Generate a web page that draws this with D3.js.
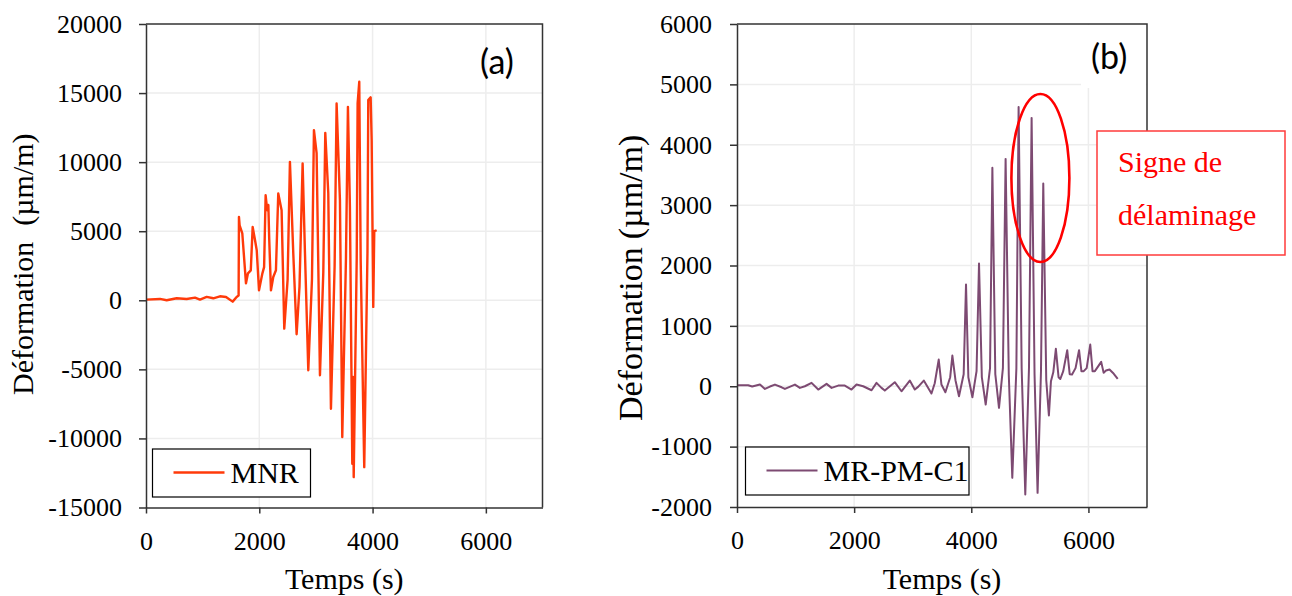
<!DOCTYPE html>
<html><head><meta charset="utf-8">
<script src="https://cdn.jsdelivr.net/npm/d3@7"></script>
<style>
body{margin:0;background:#fff}
svg{display:block}
text{font-family:"Liberation Serif","Times New Roman",serif;fill:#000}
</style>
</head><body>
<svg id="chart" width="1292" height="596"></svg>
<script>
// ---------- data ----------
const timeTicks = [0, 2000, 4000, 6000];
const strainTicksA = [-15000, -10000, -5000, 0, 5000, 10000, 15000, 20000];
const strainTicksB = [-2000, -1000, 0, 1000, 2000, 3000, 4000, 5000, 6000];
const seriesNames = ["MNR", "MR-PM-C1"];
const panelLabels = ["(a)", "(b)"];
const xTitle = "Temps (s)";
const yTitleWord = "Déformation";
const yTitleUnit = "(µm/m)";
const noteLines = ["Signe de", "délaminage"];

// MNR (panel a): time (s) and strain (µm/m)
const mnrTime = [0, 247, 365, 541, 718, 865, 953, 1071, 1188, 1306, 1412, 1530, 1600, 1635,
  1641, 1653, 1700, 1765, 1800, 1850, 1883, 1925, 1955, 1995, 2055, 2085,
  2112, 2140, 2160, 2175, 2206, 2247, 2294, 2335, 2394, 2441, 2500, 2541, 2600, 2659,
  2710, 2765, 2806, 2865, 2930, 2965, 3012, 3071, 3130, 3165, 3218, 3265, 3330, 3365,
  3424, 3465, 3530, 3565, 3600, 3642, 3655, 3667, 3720, 3736, 3765, 3790, 3853,
  3910, 3924, 3966, 3984, 4012, 4030, 4072];
const mnrStrain = [48, 97, 0, 145, 97, 193, 48, 242, 145, 290, 242, -97, 242, 338,
  6036, 5430, 4850, 1230, 1950, 2170, 5300, 4350, 3620, 720, 1950, 2400,
  7600, 6520, 6900, 4490, 720, 1690, 2170, 7730, 6520, -2050, 1500, 10020, 3400, -2460,
  1000, 9900, 3500, -5070, 1500, 12320, 10650, -5430, 2000, 12120, 7750, -7850, 2500, 14250,
  7250, -9900, 3000, 14000, 6760, -11830, -5550, -12800, 3000, 14250, 15820, 2900, -12080,
  3500, 14490, 14690, 11590, -480, 5000, 5070];

// MR-PM-C1 (panel b): time (s) and strain (µm/m)
const mrTime = [0, 190, 260, 392, 477, 563, 648, 762, 818, 989, 1074, 1159, 1273, 1387,
  1529, 1615, 1728, 1841, 1955, 2041, 2154, 2297, 2382, 2467, 2524, 2694, 2808, 2950,
  3035, 3092, 3189, 3320, 3376, 3444, 3490, 3558, 3640, 3677, 3730, 3790, 3870, 3910,
  3950, 4019, 4090, 4132, 4180, 4246, 4320, 4360, 4410, 4473, 4540, 4586, 4640, 4700,
  4770, 4808, 4860, 4922, 4985, 5030, 5080, 5132, 5190, 5229, 5280, 5325, 5360, 5400,
  5444, 5490, 5520, 5570, 5638, 5680, 5720, 5780, 5840, 5880, 5920, 5970, 6031, 6070,
  6110, 6160, 6218, 6260, 6300, 6360, 6420, 6500];
const mrStrain = [15, 17, -5, 28, -44, -5, 28, -17, -44, 28, -27, 0, 56, -55,
  39, -27, 11, 11, -55, 28, 0, -66, 56, -27, -72, 67, -83, 94,
  -55, -10, 94, -121, 50, 442, 30, -100, 150, 508, 100, -165, 200, 1684,
  150, -182, 250, 2032, 150, -303, 300, 3617, 200, -358, 300, 3766, 200, -1517,
  300, 4627, 300, -1794, 300, 4445, 200, -1766, 250, 3357, 100, -485, 83, 230,
  620, 150, 120, 250, 597, 200, 194, 300, 597, 250, 250, 300, 690, 250,
  250, 320, 404, 222, 260, 277, 220, 122];

// ---------- drawing ----------
const svg = d3.select("#chart");
const AXIS = "#333333", GRID = "#ededed";
const plainFormat = d => String(d); // hyphen-minus like the reference

function panel(cfg) {
  const x = d3.scaleLinear().domain([0, 7000]).range(cfg.xr);
  const y = d3.scaleLinear().domain(cfg.yd).range(cfg.yr);
  const g = svg.append("g");
  const [x0, x1] = cfg.xr, [y0, y1] = cfg.yr;

  // gridlines
  g.selectAll(".hg").data(cfg.yTicks.filter(v => v !== cfg.yd[0] && v !== cfg.yd[1]))
    .join("line").attr("x1", x0).attr("x2", x1)
    .attr("y1", d => y(d)).attr("y2", d => y(d))
    .attr("stroke", GRID).attr("stroke-width", 1.5);
  g.selectAll(".vg").data(timeTicks.filter(v => v > 0))
    .join("line").attr("y1", y0).attr("y2", y1)
    .attr("x1", d => x(d)).attr("x2", d => x(d))
    .attr("stroke", GRID).attr("stroke-width", 1.5);

  if (cfg.labelMask) {
    g.append("rect").attr("x", cfg.labelMask[0]).attr("y", y1 + 1)
      .attr("width", x1 - cfg.labelMask[0] - 1).attr("height", cfg.labelMask[1] - y1)
      .attr("fill", "#fff");
  }

  // series
  const pts = cfg.times.map((t, i) => [t, cfg.values[i]]);
  g.append("path").datum(pts)
    .attr("fill", "none").attr("stroke", cfg.color).attr("stroke-width", cfg.lw)
    .attr("stroke-linejoin", "round")
    .attr("d", d3.line().x(d => x(d[0])).y(d => y(d[1])));

  // border top/right
  g.append("path").attr("d", `M${x0},${y1}H${x1}V${y0}`)
    .attr("fill", "none").attr("stroke", AXIS).attr("stroke-width", 1.5);

  // axes
  const ya = g.append("g").attr("transform", `translate(${x0},0)`)
    .call(d3.axisLeft(y).tickValues(cfg.yTicks).tickSizeInner(7).tickSizeOuter(0)
      .tickPadding(cfg.yPad).tickFormat(plainFormat));
  const xa = g.append("g").attr("transform", `translate(0,${y0})`)
    .call(d3.axisBottom(x).tickValues(timeTicks).tickSizeInner(6).tickSizeOuter(0)
      .tickPadding(18).tickFormat(plainFormat));
  [ya, xa].forEach(a => {
    a.select(".domain").attr("stroke", AXIS).attr("stroke-width", 1.5);
    a.selectAll(".tick line").attr("stroke", AXIS).attr("stroke-width", 1.5);
    a.selectAll("text").attr("font-family", "Liberation Serif").attr("font-size", 26).attr("fill", "#000");
  });

  // axis titles
  g.append("text").attr("x", (x0 + x1) / 2).attr("y", 589)
    .attr("text-anchor", "middle").attr("font-size", 30).text(xTitle);
  const yt = g.append("text")
    .attr("transform", `translate(${cfg.ytX},${cfg.ytY}) rotate(-90)`)
    .attr("font-size", cfg.ytSize);
  yt.append("tspan").text(yTitleWord);
  yt.append("tspan").attr("dx", cfg.ytGap).text(yTitleUnit);

  // panel label
  g.append("text").attr("x", cfg.plX).attr("y", cfg.plY)
    .attr("font-size", 34)
    .style("font-family", "Lato, 'Open Sans', sans-serif").text(cfg.label);

  // legend
  const L = cfg.legend;
  g.append("rect").attr("x", L.x).attr("y", L.y).attr("width", L.w).attr("height", L.h)
    .attr("fill", "#fff").attr("stroke", "#000").attr("stroke-width", 1.2);
  g.append("line").attr("x1", L.x + 21).attr("x2", L.x + 72)
    .attr("y1", L.y + 23.5).attr("y2", L.y + 23.5)
    .attr("stroke", cfg.color).attr("stroke-width", cfg.lw);
  g.append("text").attr("x", L.x + 78).attr("y", L.y + 33.5)
    .attr("font-size", 30).text(cfg.name);

  return {x, y, g};
}

const A = panel({
  xr: [146, 542.5], yr: [507.5, 24], yd: [-15000, 20000], yTicks: strainTicksA,
  times: mnrTime, values: mnrStrain, color: "#ff3a0a", lw: 2.4,
  yPad: 17, ytX: 33, ytY: 395, ytSize: 30, ytGap: 16,
  label: panelLabels[0], plX: 480, plY: 74, name: seriesNames[0],
  legend: {x: 152.5, y: 449, w: 158, h: 48}
});

const B = panel({
  xr: [737, 1147], yr: [507, 24], yd: [-2000, 6000], yTicks: strainTicksB,
  times: mrTime, values: mrStrain, color: "#7d4a72", lw: 2,
  yPad: 18, ytX: 642, ytY: 421, ytSize: 34, ytGap: 8,
  label: panelLabels[1], plX: 1091, plY: 69, name: seriesNames[1],
  labelMask: [1081, 87],
  legend: {x: 745.5, y: 447, w: 223.5, h: 48}
});

// annotation ellipse on panel b (placed via data coordinates)
const ann = svg.append("g");
ann.append("ellipse")
  .attr("cx", B.x(5180)).attr("cy", B.y(3450))
  .attr("rx", 29).attr("ry", 84)
  .attr("fill", "none").attr("stroke", "#ff0000").attr("stroke-width", 2.6);
ann.append("rect").attr("x", 1097).attr("y", 131).attr("width", 188).attr("height", 124)
  .attr("fill", "#fff").attr("stroke", "#ff3b3b").attr("stroke-width", 1.5);
ann.selectAll(".note").data(noteLines).join("text")
  .attr("x", 1118).attr("y", (d, i) => 172 + i * 53)
  .attr("font-size", 30).style("fill", "#ff0000")
  .text(d => d);
</script>
</body></html>
